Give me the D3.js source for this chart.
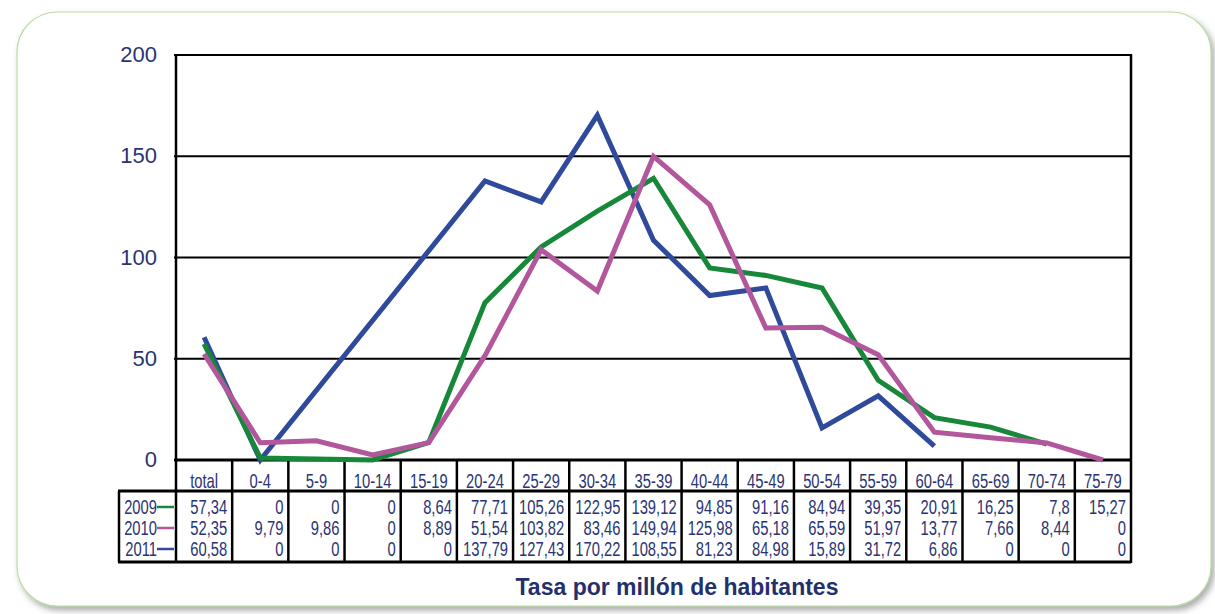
<!DOCTYPE html>
<html>
<head>
<meta charset="utf-8">
<script src="https://cdn.jsdelivr.net/npm/d3@7"></script>
<style>
    body { margin: 0; background: #fff; }
    .ylab { font-family: "Liberation Sans", Arial, sans-serif; font-size: 22px; fill: #2a3474; }
    .cell { font-family: "Liberation Sans", Arial, sans-serif; font-size: 20.5px; fill: #2a3474; }
    .xtitle { font-family: "Liberation Sans", Arial, sans-serif; font-size: 23px; font-weight: bold; fill: #23306b; }
</style>
</head>
<body>
<script>
//age groups shown under the plot
var categories = ["total", "0-4", "5-9", "10-14", "15-19", "20-24", "25-29", "30-34", "35-39",
    "40-44", "45-49", "50-54", "55-59", "60-64", "65-69", "70-74", "75-79"];

//table texts as printed
var text2009 = ["57,34", "0", "0", "0", "8,64", "77,71", "105,26", "122,95", "139,12", "94,85", "91,16", "84,94", "39,35", "20,91", "16,25", "7,8", "15,27"];
var text2010 = ["52,35", "9,79", "9,86", "0", "8,89", "51,54", "103,82", "83,46", "149,94", "125,98", "65,18", "65,59", "51,97", "13,77", "7,66", "8,44", "0"];
var text2011 = ["60,58", "0", "0", "0", "0", "137,79", "127,43", "170,22", "108,55", "81,23", "84,98", "15,89", "31,72", "6,86", "0", "0", "0"];

//values of the drawn lines (null = point not drawn)
var line2009 = [57.34, 1, 0.5, 0, 8.64, 77.71, 105.26, 122.95, 139.12, 94.85, 91.16, 84.94, 39.35, 20.91, 16.25, 7.8, null];
var line2010 = [52.35, 8.5, 9.5, 2.5, 8.6, 51.54, 103.82, 83.46, 149.94, 125.98, 65.18, 65.59, 51.97, 13.77, 11, 8.44, 0];
var line2011 = [60.58, 0, null, null, null, 137.79, 127.43, 170.22, 108.55, 81.23, 84.98, 15.89, 31.72, 6.86, null, null, null];

var years = ["2009", "2010", "2011"];
var yTicks = [0, 50, 100, 150, 200];

(function(){

var width = 1215,
    height = 614,
    squeeze = 0.72;   //table font is a narrow face

var colors = {"2009": "#17883a", "2010": "#b3579d", "2011": "#2f4a9b"};

var svg = d3.select("body")
    .append("svg")
    .attr("width", width)
    .attr("height", height);

//soft shadow for the card
var defs = svg.append("defs");
var shadow = defs.append("filter")
    .attr("id", "shadow")
    .attr("x", "-5%").attr("y", "-5%")
    .attr("width", "110%").attr("height", "112%");
shadow.append("feDropShadow")
    .attr("dx", 3).attr("dy", 4)
    .attr("stdDeviation", 3)
    .attr("flood-color", "#666")
    .attr("flood-opacity", 0.55);

svg.append("rect")
    .attr("x", 17).attr("y", 12)
    .attr("width", 1194).attr("height", 594)
    .attr("rx", 40).attr("ry", 40)
    .style("fill", "#fff")
    .style("stroke", "#b9dca2")
    .style("stroke-width", 1.2)
    .attr("filter", "url(#shadow)");

//scales
var x = d3.scaleBand()
    .domain(categories)
    .range([176, 1131])
    .padding(0);

var y = d3.scaleLinear()
    .domain([0, 200])
    .range([460, 55]);

var tableTop = y(0),
    headBottom = 491,
    tableBottom = 562,
    labelLeft = 119;

//helper for narrow table text
function cellText(px, py, anchor, str){
    svg.append("text")
        .attr("class", "cell")
        .attr("transform", "translate(" + px + "," + py + ") scale(" + squeeze + ",1)")
        .attr("text-anchor", anchor)
        .text(str);
}

//gridlines and frame
svg.selectAll(".grid")
    .data(yTicks)
    .enter()
    .append("line")
    .attr("x1", x.range()[0] - 2)
    .attr("x2", x.range()[1])
    .attr("y1", function(d){ return y(d); })
    .attr("y2", function(d){ return y(d); })
    .style("stroke", "#000")
    .style("stroke-width", function(d){ return d == 0 ? 3 : 2; });

svg.selectAll(".ylab")
    .data(yTicks)
    .enter()
    .append("text")
    .attr("class", "ylab")
    .attr("x", 157)
    .attr("y", function(d){ return y(d) + 7; })
    .attr("text-anchor", "end")
    .text(function(d){ return d; });

//vertical frame lines
svg.append("line")
    .attr("x1", x.range()[0]).attr("x2", x.range()[0])
    .attr("y1", y(200) - 1).attr("y2", tableBottom)
    .style("stroke", "#000").style("stroke-width", 2.5);
svg.append("line")
    .attr("x1", x.range()[1]).attr("x2", x.range()[1])
    .attr("y1", y(200) - 1).attr("y2", tableBottom + 1)
    .style("stroke", "#000").style("stroke-width", 2.5);

//table column dividers
svg.selectAll(".coldiv")
    .data(categories.slice(1))
    .enter()
    .append("line")
    .attr("x1", function(d){ return x(d); })
    .attr("x2", function(d){ return x(d); })
    .attr("y1", tableTop)
    .attr("y2", tableBottom)
    .style("stroke", "#000")
    .style("stroke-width", 2.5);

//table row lines and label box
[headBottom, tableBottom].forEach(function(v){
    svg.append("line")
        .attr("x1", labelLeft - 1).attr("x2", x.range()[1])
        .attr("y1", v).attr("y2", v)
        .style("stroke", "#000").style("stroke-width", 3);
});
svg.append("line")
    .attr("x1", labelLeft).attr("x2", labelLeft)
    .attr("y1", headBottom).attr("y2", tableBottom)
    .style("stroke", "#000").style("stroke-width", 2.5);

//header texts
categories.forEach(function(c){
    cellText(x(c) + x.bandwidth() / 2, 488, "middle", c);
});

//data rows
var rowTexts = [text2009, text2010, text2011],
    rowY = [514, 535, 556];

rowTexts.forEach(function(row, r){
    row.forEach(function(d, i){
        cellText(x(categories[i]) + x.bandwidth() - 5, rowY[r], "end", d);
    });

    //year label with its line sample
    cellText(157, rowY[r], "end", years[r]);
    svg.append("line")
        .attr("x1", 157).attr("x2", 174)
        .attr("y1", rowY[r] - 7).attr("y2", rowY[r] - 7)
        .style("stroke", colors[years[r]])
        .style("stroke-width", 2.5);
});

//lines, skipping points that were not drawn
var line = d3.line()
    .x(function(d){ return x(d.cat) + x.bandwidth() / 2; })
    .y(function(d){ return y(d.val); });

var series = [["2011", line2011], ["2009", line2009], ["2010", line2010]];

series.forEach(function(s){
    var pts = s[1].map(function(v, i){ return {cat: categories[i], val: v}; })
        .filter(function(d){ return d.val !== null; });
    svg.append("path")
        .datum(pts)
        .attr("d", line)
        .style("fill", "none")
        .style("stroke", colors[s[0]])
        .style("stroke-width", 5)
        .style("stroke-linejoin", "miter");
});

//axis title
svg.append("text")
    .attr("class", "xtitle")
    .attr("x", 677)
    .attr("y", 595)
    .attr("text-anchor", "middle")
    .text("Tasa por millón de habitantes");

})();
</script>
</body>
</html>
